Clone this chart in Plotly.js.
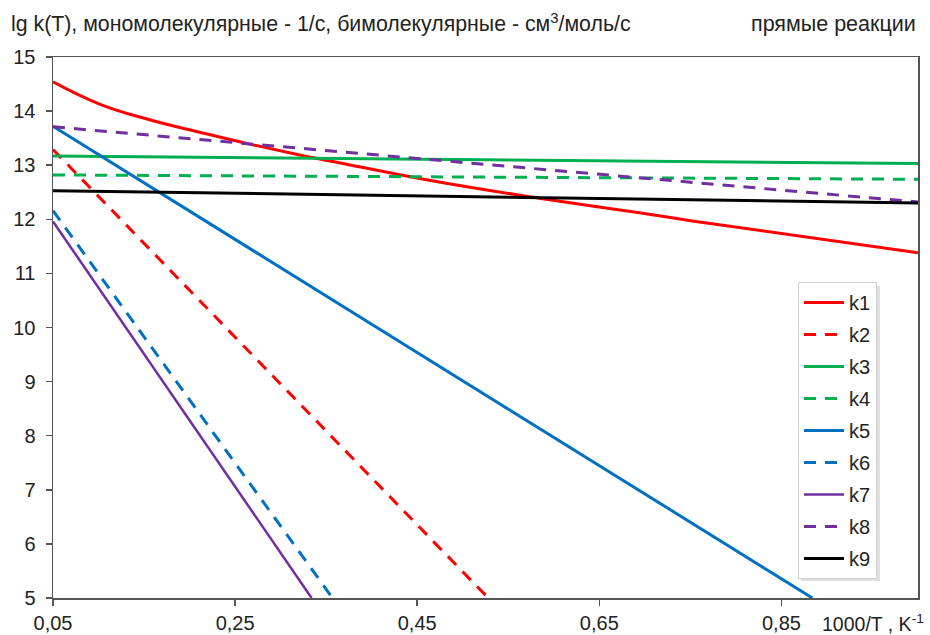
<!DOCTYPE html>
<html>
<head>
<meta charset="utf-8">
<script src="https://cdn.plot.ly/plotly-3.0.1.min.js"></script>
<style>html,body{margin:0;padding:0;background:#fff;}#chart{width:930px;height:635px;}</style>
</head>
<body>
<div id="chart"></div>
<script>
// Series data (x = 1000/T, K^-1 ; y = lg k)
const seriesNames = ["k1","k2","k3","k4","k5","k6","k7","k8","k9"];
const xK1 = [0.05, 0.101, 0.156, 0.211, 0.266, 0.321, 0.375, 0.474, 0.584, 0.694, 0.752, 1.0];
const yK1 = [14.54, 14.13, 13.84, 13.61, 13.39, 13.19, 13.01, 12.69, 12.39, 12.12, 11.97, 11.38];
const xK2 = [0.05, 0.528];  const yK2 = [13.29, 5];
const xK3 = [0.05, 1.0];    const yK3 = [13.17, 13.03];
const xK4 = [0.05, 1.0];    const yK4 = [12.82, 12.74];
const xK5 = [0.05, 0.884];  const yK5 = [13.72, 5];
const xK6 = [0.05, 0.357];  const yK6 = [12.16, 5];
const xK7 = [0.05, 0.334];  const yK7 = [11.96, 5];
const xK8 = [0.05, 1.0];    const yK8 = [13.71, 12.32];
const xK9 = [0.05, 1.0];    const yK9 = [12.53, 12.30];
const xTickVals = [0.05, 0.25, 0.45, 0.65, 0.85];
const xTickText = ["0,05", "0,25", "0,45", "0,65", "0,85"];
const yTickVals = [5, 6, 7, 8, 9, 10, 11, 12, 13, 14, 15];

const xs = [xK1, xK2, xK3, xK4, xK5, xK6, xK7, xK8, xK9];
const ys = [yK1, yK2, yK3, yK4, yK5, yK6, yK7, yK8, yK9];
const colors = ["#ff0000","#ff0000","#00b050","#00b050","#0070c0","#0070c0","#7030a0","#7030a0","#000000"];
const dashes = ["solid","12px,9px","solid","12px,9px","solid","12px,9px","solid","12px,9px","solid"];
const widths = [3, 3, 3, 3, 3, 3, 2.5, 3, 3];

const traces = seriesNames.map((n, i) => ({
  type: "scatter", mode: "lines", name: n,
  x: xs[i], y: ys[i],
  legendgroup: "g" + i,
  line: {color: colors[i], width: widths[i], dash: dashes[i], shape: i === 0 ? "spline" : "linear", smoothing: 1.2}
}));

const font = "Liberation Sans, Arial, sans-serif";
const px2x = p => (p - 53) / 865;
const px2y = p => (598 - p) / 541;
const layout = {
  width: 930, height: 635,
  margin: {l: 53, r: 12, t: 57, b: 37},
  paper_bgcolor: "#fff", plot_bgcolor: "#fff",
  separators: ", ",
  font: {family: font, size: 20, color: "#222"},
  showlegend: true,
  title: {text: "lg k(T), мономолекулярные - 1/с, бимолекулярные - см<sup>3</sup>/моль/с",
          x: 11/930, xanchor: "left", xref: "container", y: 1 - 24/635, yanchor: "middle", yref: "container",
          font: {family: font, size: 21.3, color: "#222"}},
  xaxis: {range: [0.05, 1.0], tickvals: xTickVals, ticktext: xTickText, showgrid: false, zeroline: false,
          showline: true, linecolor: "#555", linewidth: 1.5, mirror: true,
          ticks: "outside", ticklen: 6, tickcolor: "#555", tickwidth: 1.5,
          tickfont: {family: font, size: 20, color: "#222"}},
  yaxis: {range: [5, 15], tickvals: yTickVals, showgrid: false, zeroline: false,
          showline: true, linecolor: "#555", linewidth: 1.5, mirror: true,
          ticks: "outside", ticklen: 6, tickcolor: "#555", tickwidth: 1.5, ticklabelstandoff: 6,
          tickfont: {family: font, size: 20, color: "#222"}},
  legend: {x: px2x(798), y: px2y(282), xanchor: "left", yanchor: "top",
           bgcolor: "#fff", bordercolor: "#d0d0d0", borderwidth: 1,
           font: {family: font, size: 20, color: "#222"}, tracegroupgap: 3, itemwidth: 40},
  shapes: [
    {type: "rect", xref: "paper", yref: "paper", layer: "above",
     x0: px2x(801), x1: px2x(880), y0: px2y(286), y1: px2y(581),
     fillcolor: "rgba(0,0,0,0.12)", line: {width: 0}}
  ],
  annotations: [
    {text: "прямые реакции", xref: "paper", yref: "paper", x: px2x(918), y: px2y(24),
     xanchor: "right", yanchor: "middle", showarrow: false, font: {family: font, size: 21.5, color: "#222"}},
    {text: "1000/T , K<sup>-1</sup>", xref: "paper", yref: "paper", x: px2x(926), y: px2y(623),
     xanchor: "right", yanchor: "middle", showarrow: false, font: {family: font, size: 19.5, color: "#222"}}
  ]
};

Plotly.newPlot("chart", traces, layout, {displayModeBar: false, staticPlot: true});
</script>
</body>
</html>
